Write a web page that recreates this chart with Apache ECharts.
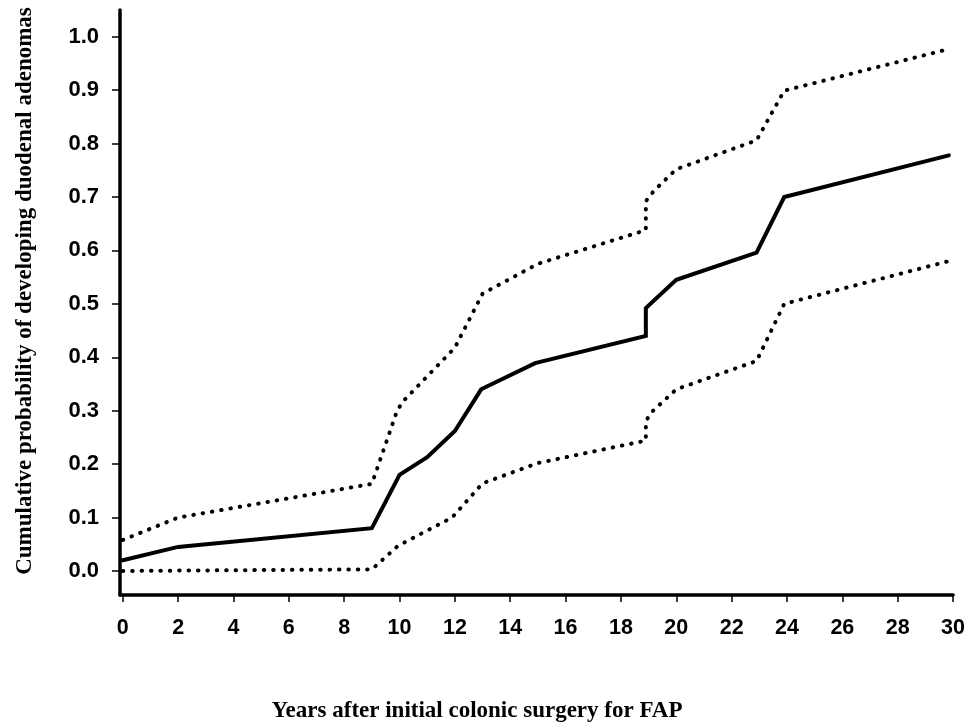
<!DOCTYPE html>
<html>
<head>
<meta charset="utf-8">
<title>Cumulative probability of duodenal adenomas after colonic surgery for FAP</title>
<script src="https://cdn.jsdelivr.net/npm/echarts@6/dist/echarts.min.js"></script>
<style>
  html, body { margin: 0; padding: 0; background: #fff; }
  #chart { width: 968px; height: 723px; }
</style>
</head>
<body>
<div id="chart"></div>
<script>
// Kaplan-Meier style estimate with its upper and lower confidence bounds
// [years after initial colonic surgery, cumulative probability]
const estimate = [
  [0, 0.02], [2, 0.045], [9, 0.08], [10, 0.18], [11, 0.213], [12, 0.262],
  [12.95, 0.34], [14.9, 0.389], [18.9, 0.44], [18.9, 0.492], [20, 0.545],
  [22.9, 0.596], [23.9, 0.70], [29.85, 0.778]
];
const upperBound = [
  [0, 0.058], [2, 0.1], [9, 0.163], [9.9, 0.298], [10.1, 0.316], [12, 0.418],
  [13, 0.519], [15, 0.575], [18.9, 0.638], [18.9, 0.692], [19.2, 0.712],
  [20, 0.752], [22.9, 0.806], [23.9, 0.899], [29.85, 0.977]
];
const lowerBound = [
  [0, 0.0], [9, 0.003], [9.9, 0.045], [10.2, 0.054], [11.9, 0.1], [13, 0.164],
  [15, 0.202], [18.9, 0.244], [18.9, 0.28], [19.1, 0.297], [20, 0.34],
  [22.9, 0.393], [23.9, 0.5], [29.85, 0.58]
];

const xTicks = [0, 2, 4, 6, 8, 10, 12, 14, 16, 18, 20, 22, 24, 26, 28, 30];
const yTicks = [0, 0.1, 0.2, 0.3, 0.4, 0.5, 0.6, 0.7, 0.8, 0.9, 1.0];

const xTitle = 'Years after initial colonic surgery for FAP';
const yTitle = 'Cumulative probability of developing duodenal adenomas';

const chart = echarts.init(document.getElementById('chart'), null, { renderer: 'canvas' });

const tickFont = { fontFamily: '"Liberation Sans", Arial, sans-serif', fontWeight: 'bold', color: '#000' };
const titleFont = 'bold 23px "Liberation Serif", "Times New Roman", serif';

const dotted = {
  color: '#000', width: 4, type: [0.5, 8.9], cap: 'round', join: 'round'
};

chart.setOption({
  animation: false,
  backgroundColor: '#fff',
  grid: { left: 120, top: 10, width: 834, height: 585, containLabel: false },
  xAxis: {
    type: 'value',
    min: -0.1,
    max: 30,
    splitLine: { show: false },
    axisLine: { show: true, onZero: false, lineStyle: { color: '#000', width: 3.5 } },
    axisTick: {
      show: true, inside: false, length: 7, customValues: xTicks,
      lineStyle: { color: '#000', width: 1.5 }
    },
    axisLabel: {
      show: true, customValues: xTicks, margin: 22, fontSize: 21.5,
      ...tickFont,
      formatter: v => String(Math.round(v))
    }
  },
  yAxis: {
    type: 'value',
    min: -0.045,
    max: 1.05,
    splitLine: { show: false },
    axisLine: { show: true, onZero: false, lineStyle: { color: '#000', width: 3.5 } },
    axisTick: {
      show: true, inside: false, length: 8, customValues: yTicks,
      lineStyle: { color: '#000', width: 1.5 }
    },
    axisLabel: {
      show: true, customValues: yTicks, margin: 21, fontSize: 22,
      ...tickFont,
      formatter: v => v.toFixed(1)
    }
  },
  graphic: [
    {
      type: 'text',
      x: 25, y: 291,
      rotation: Math.PI / 2,
      style: {
        text: yTitle, font: titleFont, fill: '#000',
        align: 'center', verticalAlign: 'middle'
      }
    },
    {
      type: 'text',
      x: 477, y: 711,
      style: {
        text: xTitle, font: titleFont, fill: '#000',
        align: 'center', verticalAlign: 'middle'
      }
    }
  ],
  series: [
    {
      name: 'Estimate',
      type: 'line',
      data: estimate,
      showSymbol: false,
      symbol: 'none',
      lineStyle: { color: '#000', width: 4, cap: 'round', join: 'miter' },
      z: 3
    },
    {
      name: 'Upper bound',
      type: 'line',
      data: upperBound,
      showSymbol: false,
      symbol: 'none',
      lineStyle: dotted,
      z: 2
    },
    {
      name: 'Lower bound',
      type: 'line',
      data: lowerBound,
      showSymbol: false,
      symbol: 'none',
      lineStyle: dotted,
      z: 2
    }
  ]
});
</script>
</body>
</html>
